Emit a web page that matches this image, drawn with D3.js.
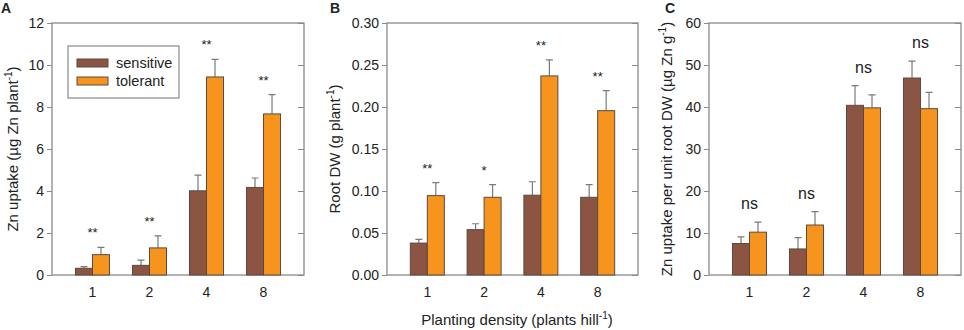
<!DOCTYPE html>
<html>
<head>
<meta charset="utf-8">
<script src="https://cdn.jsdelivr.net/npm/d3@7"></script>
<style>
  body { margin: 0; background: #fff; }
  text { font-family: "Liberation Sans", Arial, sans-serif; fill: #222; }
</style>
</head>
<body>
<svg width="964" height="330"></svg>
<script>
// categories
var densities = ["1", "2", "4", "8"];
var seriesNames = ["sensitive", "tolerant"];

// A: Zn uptake
var uptakeSens = [0.32, 0.46, 4.01, 4.17];
var uptakeSensErr = [0.08, 0.25, 0.75, 0.45];
var uptakeTol = [0.97, 1.29, 9.43, 7.67];
var uptakeTolErr = [0.35, 0.57, 0.84, 0.92];
var uptakeSig = ["**", "**", "**", "**"];

// B: root DW
var rootSens = [0.038, 0.054, 0.095, 0.0925];
var rootSensErr = [0.0045, 0.007, 0.016, 0.015];
var rootTol = [0.0945, 0.0925, 0.237, 0.1956];
var rootTolErr = [0.0155, 0.015, 0.019, 0.0238];
var rootSig = ["**", "*", "**", "**"];

// C: Zn uptake per unit root DW
var perRootSens = [7.5, 6.2, 40.4, 46.9];
var perRootSensErr = [1.6, 2.7, 4.7, 4.0];
var perRootTol = [10.2, 11.9, 39.8, 39.6];
var perRootTolErr = [2.4, 3.2, 3.1, 3.9];
var perRootSig = ["ns", "ns", "ns", "ns"];

var colors = ["#8c5443", "#f7941d"];

var svg = d3.select("svg");
var plotTop = 23, plotBottom = 275;

function drawPanel(p) {
    var g = svg.append("g");

    var x = d3.scalePoint()
        .domain(densities)
        .range([p.left, p.right])
        .padding(0.71);
    var y = d3.scaleLinear()
        .domain([0, p.max])
        .range([plotBottom, plotTop]);
    var bw = 17;

    // frame
    g.append("rect")
        .attr("x", p.left).attr("y", plotTop)
        .attr("width", p.right - p.left).attr("height", plotBottom - plotTop)
        .attr("fill", "none").attr("stroke", "#8a8a8a").attr("stroke-width", 1.3);

    // left axis
    var yAxis = g.append("g")
        .attr("transform", "translate(" + p.left + ",0)")
        .call(d3.axisLeft(y).tickValues(p.ticks).tickFormat(p.fmt).tickSize(5).tickPadding(3));
    yAxis.select(".domain").remove();
    yAxis.selectAll("line").attr("stroke", "#8a8a8a");
    yAxis.selectAll("text").attr("font-size", 14).attr("fill", "#222")
        .attr("font-family", "Liberation Sans, Arial, sans-serif");

    // right inner ticks
    var rAxis = g.append("g")
        .attr("transform", "translate(" + p.right + ",0)")
        .call(d3.axisLeft(y).tickValues(p.ticks).tickSize(-6).tickFormat(""));
    rAxis.select(".domain").remove();
    rAxis.selectAll("line").attr("stroke", "#8a8a8a")
        .attr("x2", -6);

    // x labels
    g.selectAll(".xl")
        .data(densities)
        .enter()
        .append("text")
        .attr("x", function(d){ return x(d); })
        .attr("y", 297)
        .attr("text-anchor", "middle")
        .attr("font-size", 14)
        .text(function(d){ return d; });

    var series = [
        {vals: p.sens, err: p.sensErr, off: -bw, color: colors[0]},
        {vals: p.tol, err: p.tolErr, off: 0, color: colors[1]}
    ];

    series.forEach(function(s) {
        var sg = g.append("g");
        // error bars
        sg.selectAll(".eb")
            .data(s.vals)
            .enter()
            .append("path")
            .attr("d", function(d, i) {
                var cx = x(densities[i]) + s.off + bw / 2;
                var y0 = y(d), y1 = y(d + s.err[i]);
                return "M" + cx + "," + y0 + "V" + y1 + "M" + (cx - 3.5) + "," + y1 + "H" + (cx + 3.5);
            })
            .attr("stroke", "#7a7a7a").attr("stroke-width", 1.2).attr("fill", "none");
        sg.selectAll("rect")
            .data(s.vals)
            .enter()
            .append("rect")
            .attr("x", function(d, i){ return x(densities[i]) + s.off; })
            .attr("y", function(d){ return y(d); })
            .attr("width", bw)
            .attr("height", function(d){ return plotBottom - y(d); })
            .attr("fill", s.color)
            .attr("stroke", "#5a4a42")
            .attr("stroke-width", 1);
    });

    // significance marks
    g.selectAll(".sig")
        .data(p.sig)
        .enter()
        .append("text")
        .attr("x", function(d, i){ return x(densities[i]); })
        .attr("y", function(d, i){
            var m = Math.max(p.sens[i] + p.sensErr[i], p.tol[i] + p.tolErr[i]);
            return y(m) - (d === "ns" ? 13 : 10);
        })
        .attr("text-anchor", "middle")
        .attr("font-size", function(d){ return d === "ns" ? 16 : 13; })
        .text(function(d){ return d; });

    // y title
    var t = g.append("text")
        .attr("transform", "translate(" + p.titleX + "," + ((plotTop + plotBottom) / 2) + ") rotate(-90)")
        .attr("text-anchor", "middle")
        .attr("font-size", 15);
    t.append("tspan").text(p.title);
    t.append("tspan").attr("font-size", 10).attr("dy", -6).text("-1");
    t.append("tspan").attr("dy", 6).text(")");

    // panel letter
    g.append("text")
        .attr("x", p.letterX).attr("y", 13)
        .attr("font-size", 14).attr("font-weight", "bold")
        .text(p.letter);
}

drawPanel({
    left: 52, right: 304, max: 12, ticks: [0, 2, 4, 6, 8, 10, 12], fmt: d3.format("d"),
    sens: uptakeSens, sensErr: uptakeSensErr, tol: uptakeTol, tolErr: uptakeTolErr,
    sig: uptakeSig, title: "Zn uptake (\u00b5g Zn  plant", titleX: 18, letter: "A", letterX: 1
});
drawPanel({
    left: 387, right: 638, max: 0.30, ticks: [0, 0.05, 0.10, 0.15, 0.20, 0.25, 0.30], fmt: d3.format(".2f"),
    sens: rootSens, sensErr: rootSensErr, tol: rootTol, tolErr: rootTolErr,
    sig: rootSig, title: "Root DW (g plant", titleX: 340, letter: "B", letterX: 330
});
drawPanel({
    left: 709, right: 961, max: 60, ticks: [0, 10, 20, 30, 40, 50, 60], fmt: d3.format("d"),
    sens: perRootSens, sensErr: perRootSensErr, tol: perRootTol, tolErr: perRootTolErr,
    sig: perRootSig, title: "Zn uptake per unit root DW (\u00b5g Zn g", titleX: 672, letter: "C", letterX: 665
});

// legend (panel A)
var leg = svg.append("g");
leg.append("rect")
    .attr("x", 68).attr("y", 46).attr("width", 111).attr("height", 52)
    .attr("fill", "#fff").attr("stroke", "#8a8a8a").attr("stroke-width", 1.2);
seriesNames.forEach(function(name, i) {
    leg.append("rect")
        .attr("x", 77).attr("y", 59 + i * 18).attr("width", 31).attr("height", 8)
        .attr("fill", colors[i]).attr("stroke", "#5a4a42").attr("stroke-width", 1);
    leg.append("text")
        .attr("x", 116).attr("y", 68 + i * 18)
        .attr("font-size", 14.5)
        .text(name);
});

// shared x title
var xt = svg.append("text")
    .attr("x", 517).attr("y", 325)
    .attr("text-anchor", "middle")
    .attr("font-size", 15);
xt.append("tspan").text("Planting density (plants hill");
xt.append("tspan").attr("font-size", 10).attr("dy", -6).text("-1");
xt.append("tspan").attr("dy", 6).text(")");
</script>
</body>
</html>
